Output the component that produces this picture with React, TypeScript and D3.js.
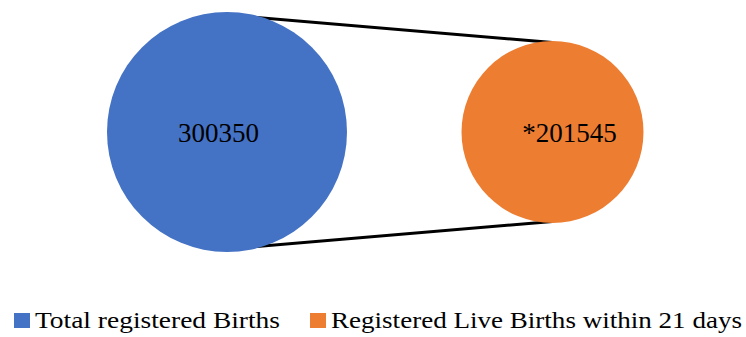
import React from "react";
import * as d3 from "d3";

const categories = ["Total registered Births", "Registered Live Births within 21 days"];
const values = [300350, 201545];
const labels = ["300350", "*201545"];
const colors = ["#4472C4", "#ED7D31"];

export default function App() {
  const W = 746, H = 337;
  const x = d3.scalePoint<string>().domain(categories).range([227, 552.5]);
  const r = d3.scaleLinear().domain([d3.min(values)!, d3.max(values)!]).range([91, 120]);
  const cy = 132;
  const labelDx = [-8.5, 17];
  const font = "'Liberation Serif', 'Times New Roman', serif";
  const c0 = { x: x(categories[0])!, r: r(values[0]) };
  const c1 = { x: x(categories[1])!, r: r(values[1]) };
  const legendX = [14, 310];
  const legendLen = [245, 411];
  return (
    <svg width={W} height={H} style={{ position: "absolute", left: 0, top: 0, background: "#fff" }}>
      <line x1={c0.x} y1={cy - c0.r + 3} x2={c1.x} y2={cy - c1.r + 1.5} stroke="#000" strokeWidth={3} />
      <line x1={c0.x} y1={cy + c0.r - 3} x2={c1.x} y2={cy + c1.r - 1.5} stroke="#000" strokeWidth={3} />
      {categories.map((c, i) => (
        <g key={c}>
          <circle cx={x(c)!} cy={cy} r={r(values[i])} fill={colors[i]} />
          <text x={x(c)! + labelDx[i]} y={142} textAnchor="middle" fontFamily={font} fontSize={27} fill="#000">
            {labels[i]}
          </text>
        </g>
      ))}
      {categories.map((c, i) => (
        <g key={"l" + c}>
          <rect x={legendX[i]} y={313} width={16} height={15} fill={colors[i]} />
          <text
            x={legendX[i] + 21}
            y={328}
            fontFamily={font}
            fontSize={23}
            fill="#000"
            textLength={legendLen[i]}
            lengthAdjust="spacingAndGlyphs"
          >
            {c}
          </text>
        </g>
      ))}
    </svg>
  );
}
